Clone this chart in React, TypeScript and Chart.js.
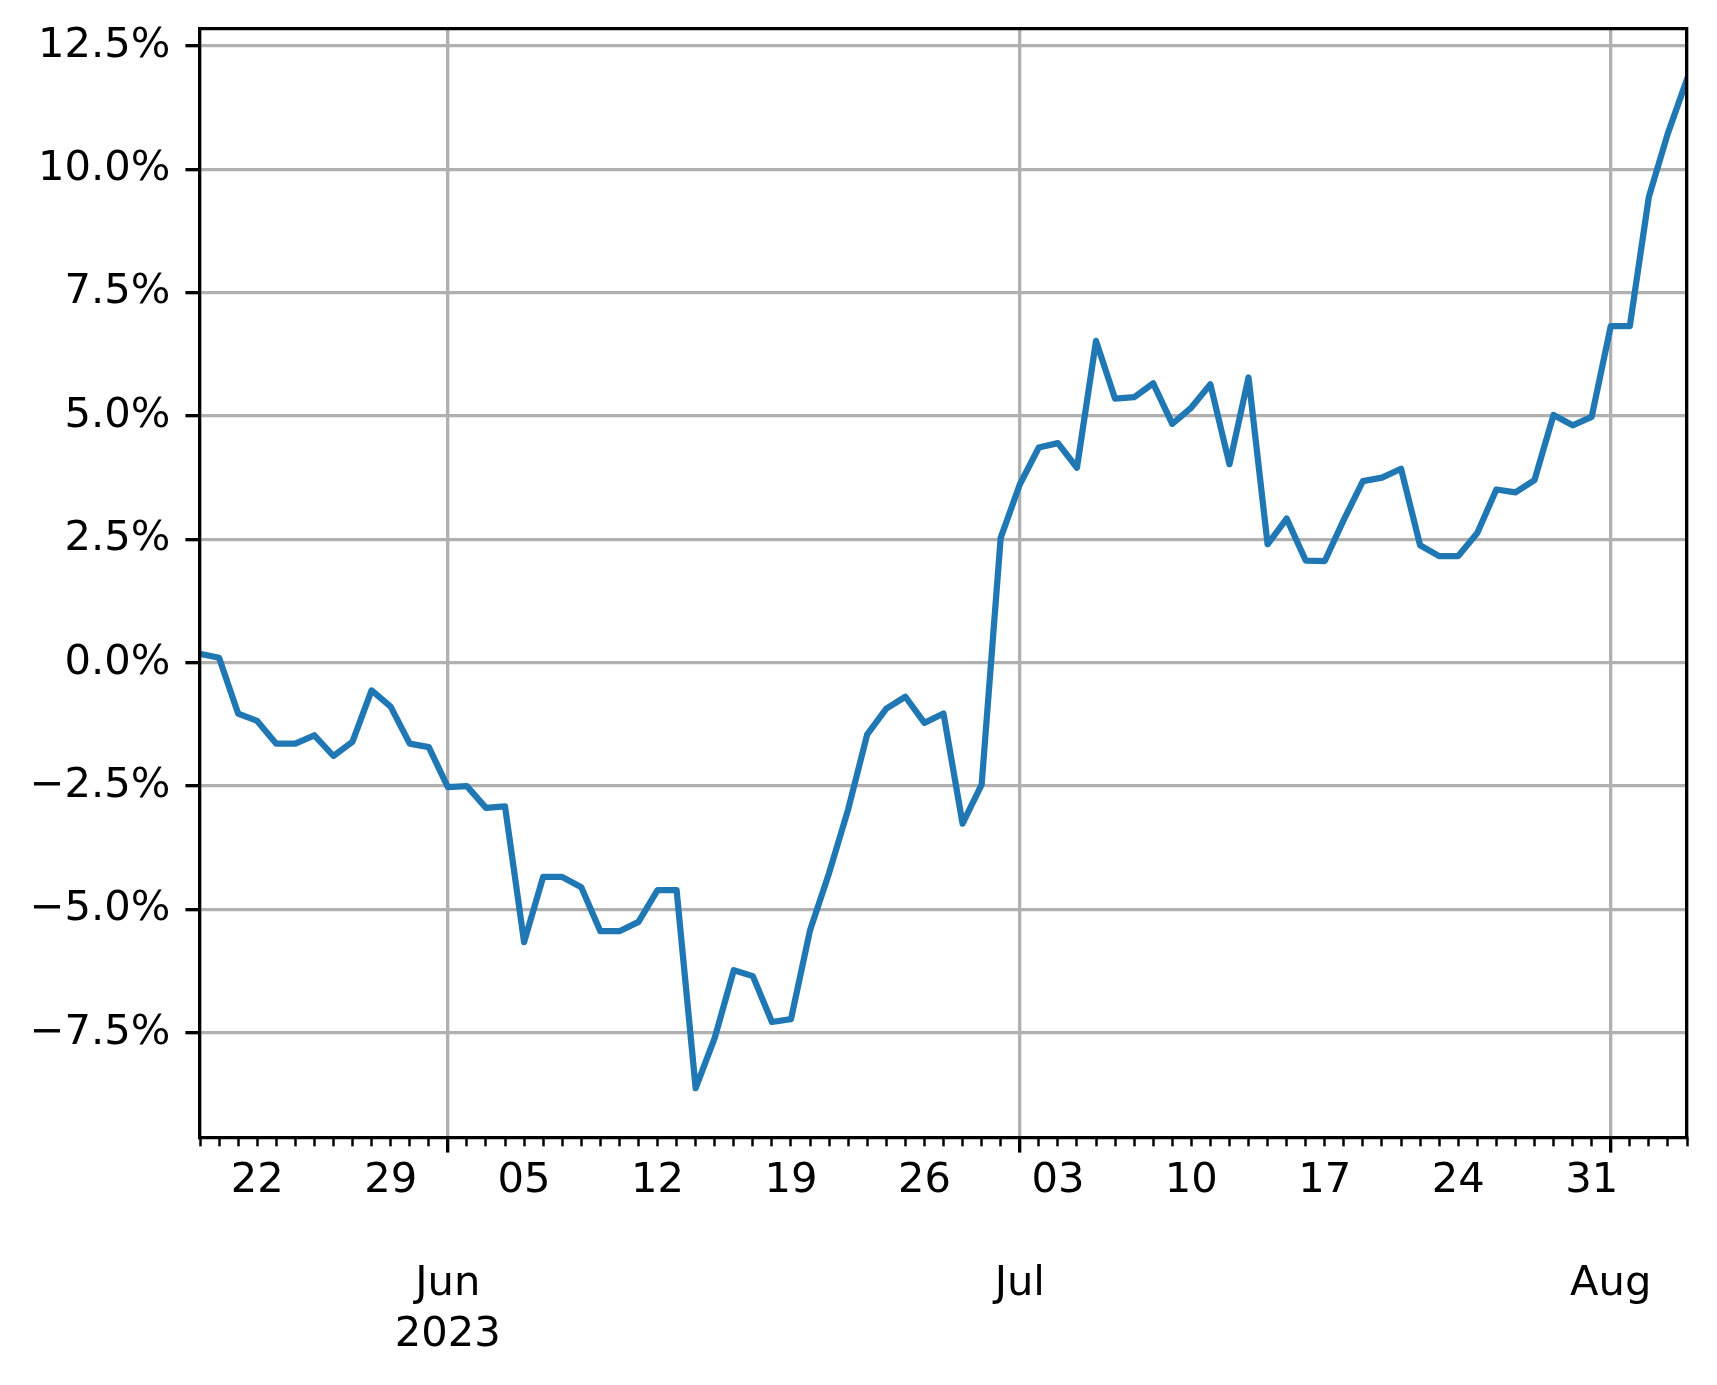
import React, { useEffect, useRef } from 'react';
import { Chart, registerables } from 'chart.js';

Chart.register(...registerables);

// Daily cumulative return (%) from 2023-05-19 (day 0) to 2023-08-05 (day 78)
const VALUES = [
  0.18, 0.10, -1.03, -1.18, -1.64, -1.64, -1.47, -1.89, -1.60, -0.56,
  -0.89, -1.64, -1.71, -2.52, -2.50, -2.94, -2.91, -5.66, -4.34, -4.34,
  -4.55, -5.44, -5.44, -5.25, -4.61, -4.61, -8.62, -7.60, -6.23, -6.35,
  -7.28, -7.22, -5.42, -4.26, -2.97, -1.45, -0.93, -0.69, -1.22, -1.03,
  -3.26, -2.47, 2.53, 3.61, 4.36, 4.45, 3.95, 6.52, 5.35, 5.38,
  5.66, 4.84, 5.17, 5.64, 4.02, 5.78, 2.40, 2.92, 2.07, 2.06,
  2.90, 3.68, 3.75, 3.93, 2.38, 2.16, 2.16, 2.63, 3.51, 3.45,
  3.70, 5.02, 4.81, 4.98, 6.82, 6.82, 9.44, 10.73, 11.82,
];

const Y_TICKS = [-7.5, -5, -2.5, 0, 2.5, 5, 7.5, 10, 12.5];
const Y_MIN = -9.63;
const Y_MAX = 12.84;

// Monday tick positions (day index) and their labels
const WEEK_TICKS = [3, 10, 17, 24, 31, 38, 45, 52, 59, 66, 73];
const WEEK_LABELS = ['22', '29', '05', '12', '19', '26', '03', '10', '17', '24', '31'];

// Month starts (day index) and labels
const MONTH_TICKS = [13, 43, 74];
const MONTH_LABELS = [['', '', 'Jun', '2023'], ['', '', 'Jul'], ['', '', 'Aug']];

const W = 1717;
const H = 1385;
const PLOT_BOTTOM = 1138;

const zeroPad = (s: any) => {
  s.paddingTop = 0;
  s.paddingBottom = 0;
  s.paddingLeft = 0;
  s.paddingRight = 0;
};

export default function App() {
  const ref = useRef<HTMLCanvasElement>(null);

  useEffect(() => {
    const canvas = ref.current;
    if (!canvas) return;
    const FONT = { family: 'DejaVu Sans', size: 41.67, lineHeight: 1.2 };
    const XFONT = { family: 'DejaVu Sans', size: 41.67, lineHeight: 1.23 };
    const last = VALUES.length - 1;
    const days = VALUES.map((_, i) => i);

    const chart = new Chart(canvas, {
      type: 'line',
      data: {
        datasets: [
          {
            data: VALUES.map((v, i) => ({ x: i, y: v })),
            borderColor: '#1f77b4',
            borderWidth: 6.25,
            pointRadius: 0,
            tension: 0,
            fill: false,
            borderJoinStyle: 'round',
            borderCapStyle: 'square',
            clip: 0,
            xAxisID: 'x',
            yAxisID: 'y',
          } as any,
        ],
      },
      options: {
        responsive: false,
        animation: false,
        devicePixelRatio: 1,
        events: [],
        layout: { padding: { left: 0, top: 29, right: 30, bottom: 0 } },
        plugins: { legend: { display: false }, tooltip: { enabled: false } },
        scales: {
          // month ticks: long tick marks + vertical grid lines (no labels)
          xMajor: {
            type: 'linear',
            position: 'bottom',
            weight: 0,
            min: 0,
            max: last,
            afterBuildTicks: (s: any) => {
              s.ticks = MONTH_TICKS.map((v) => ({ value: v }));
            },
            afterFit: (s: any) => {
              s.height = 0;
              zeroPad(s);
            },
            grid: {
              color: '#b0b0b0',
              lineWidth: 3.33,
              tickColor: '#000',
              tickLength: 14.58,
              tickWidth: 3.33,
            },
            border: { display: true, color: '#000', width: 3.33, z: 1 },
            ticks: { display: false },
          },
          // daily minor ticks with week labels and month labels
          x: {
            type: 'linear',
            position: 'bottom',
            weight: 1,
            min: 0,
            max: last,
            afterBuildTicks: (s: any) => {
              s.ticks = days.map((v) => ({ value: v }));
            },
            afterFit: (s: any) => {
              s.height = H - PLOT_BOTTOM;
              zeroPad(s);
            },
            grid: {
              drawOnChartArea: false,
              tickLength: 8.33,
              tickWidth: 2.5,
              tickColor: '#000',
              color: '#000',
            },
            border: { display: false },
            ticks: {
              autoSkip: false,
              maxRotation: 0,
              minRotation: 0,
              padding: 9.5,
              color: '#000',
              font: XFONT,
              callback: (v: any) => {
                const n = Number(v);
                const m = MONTH_TICKS.indexOf(n);
                if (m >= 0) return MONTH_LABELS[m];
                const k = WEEK_TICKS.indexOf(n);
                return k >= 0 ? WEEK_LABELS[k] : '';
              },
            },
          },
          xTop: {
            type: 'linear',
            position: 'top',
            min: 0,
            max: 1,
            afterFit: (s: any) => {
              s.height = 0;
              zeroPad(s);
            },
            grid: { display: false, drawTicks: false },
            ticks: { display: false },
            border: { display: true, color: '#000', width: 3.33, z: 1 },
          },
          y: {
            type: 'linear',
            position: 'left',
            min: Y_MIN,
            max: Y_MAX,
            afterBuildTicks: (s: any) => {
              s.ticks = Y_TICKS.map((v) => ({ value: v }));
            },
            afterFit: (s: any) => {
              s.width = 200;
              zeroPad(s);
            },
            grid: {
              color: '#b0b0b0',
              lineWidth: 3.33,
              tickColor: '#000',
              tickLength: 14.58,
              tickWidth: 3.33,
            },
            border: { display: true, color: '#000', width: 3.33, z: 1 },
            ticks: {
              padding: 15,
              color: '#000',
              font: FONT,
              callback: (v: any) => {
                const n = Number(v);
                return (n < 0 ? '\u2212' : '') + Math.abs(n).toFixed(1) + '%';
              },
            },
          },
          yRight: {
            type: 'linear',
            position: 'right',
            min: 0,
            max: 1,
            afterFit: (s: any) => {
              s.width = 0;
              zeroPad(s);
            },
            grid: { display: false, drawTicks: false },
            ticks: { display: false },
            border: { display: true, color: '#000', width: 3.33, z: 1 },
          },
        },
      } as any,
    });

    return () => chart.destroy();
  }, []);

  return (
    <div style={{ position: 'fixed', left: 0, top: 0, width: W, height: H, background: '#fff' }}>
      <canvas ref={ref} width={W} height={H} style={{ display: 'block', width: W, height: H }} />
    </div>
  );
}
